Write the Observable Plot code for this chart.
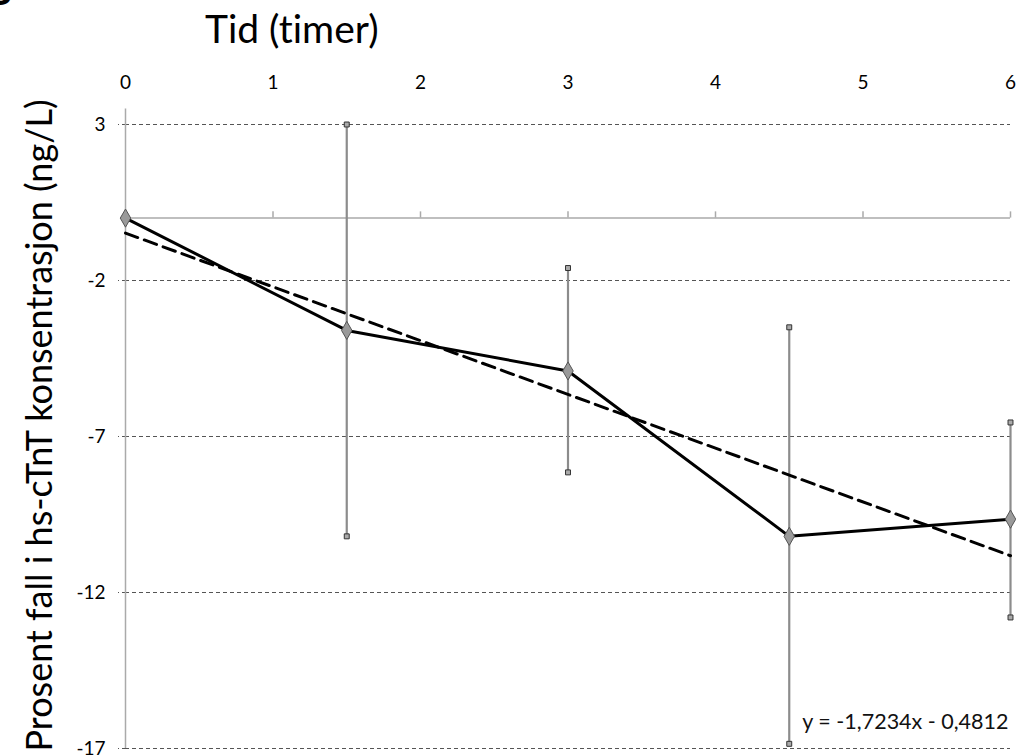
<!DOCTYPE html>
<html>
<head>
<meta charset="utf-8">
<script src="https://cdn.jsdelivr.net/npm/d3@7"></script>
<script src="https://cdn.jsdelivr.net/npm/@observablehq/plot@0.6"></script>
<style>
  body { margin: 0; background: #fff; }
  #wrap { position: relative; width: 1016px; height: 756px; overflow: hidden; font-family: Lato, "Open Sans", sans-serif; font-variant-ligatures: none; }
  #panel { position: absolute; left: -14px; top: -30px; font-size: 40px; font-weight: bold; color: #000; line-height: 1; }
  #title { position: absolute; left: 205px; top: 5px; font-size: 39px; color: #000; line-height: 1.2; }
  svg text { font-variant-ligatures: none; }
</style>
</head>
<body>
<div id="wrap">
  <div id="chart"></div>
  <div id="panel">B</div>
  <div id="title">Tid (timer)</div>
</div>
<script>
// Data
const hours = [0, 1.5, 3, 4.5, 6];
const meanFall = [0, -3.6, -4.9, -10.2, -9.65];
const errHigh = [null, 3, -1.6, -3.5, -6.55];
const errLow = [null, -10.2, -8.15, -16.85, -12.8];
const xTicks = [0, 1, 2, 3, 4, 5, 6];
const yTicks = [3, -2, -7, -12, -17];
const trendSlope = -1.7234;
const trendIntercept = -0.4812;
const equationLabel = "y = -1,7234x - 0,4812";
const yLabel = "Prosent fall i hs-cTnT konsentrasjon (ng/L)";

const points = hours.map((h, i) => ({x: h, y: meanFall[i]}));
const bars = hours.map((h, i) => ({x: h, lo: errLow[i], hi: errHigh[i]})).filter(d => d.lo != null);
const caps = bars.flatMap(d => [{x: d.x, y: d.lo}, {x: d.x, y: d.hi}]);
const trendX = [hours[0], hours[hours.length - 1]];
const trend = trendX.map(x => ({x, y: trendSlope * x + trendIntercept}));

const chart = Plot.plot({
  width: 1016,
  height: 756,
  marginLeft: 125,
  marginRight: 6,
  marginTop: 124,
  marginBottom: 8,
  style: {fontFamily: "Lato, 'Open Sans', sans-serif", background: "#fff", fontSize: "19px", color: "#000"},
  x: {domain: [0, 6]},
  y: {domain: [-17, 3]},
  marks: [
    Plot.gridY(yTicks, {stroke: "#555", strokeOpacity: 1, strokeDasharray: "4,3", strokeWidth: 1}),
    Plot.axisY(yTicks, {tickSize: 7, tickPadding: 13, fontSize: 19, stroke: "#555", strokeDasharray: "3,3", label: null, tickFormat: d => String(d).replace("−", "-")}),
    Plot.axisX(xTicks, {anchor: "top", tickSize: 0, tickPadding: 36, fontSize: 19, label: null, tickFormat: d => String(d)}),
    Plot.ruleY([0], {x1: 0, x2: 6, stroke: "#aaa", strokeWidth: 1.5}),
    Plot.ruleX([0], {y1: -17, y2: 3.5, stroke: "#aaa", strokeWidth: 1.5}),
    Plot.ruleX(xTicks.slice(1), {y1: 0, y2: 0.2, stroke: "#aaa", strokeWidth: 1.5}),
    Plot.ruleX(bars, {x: "x", y1: "lo", y2: "hi", stroke: "#8c8c8c", strokeWidth: 2.2}),
    Plot.line(trend, {x: "x", y: "y", stroke: "#000", strokeWidth: 3, strokeDasharray: "13,7"}),
    Plot.line(points, {x: "x", y: "y", stroke: "#000", strokeWidth: 3}),
    Plot.dot(points, {x: "x", y: "y", symbol: "diamond", r: 5.5, fill: "#9a9a9a", stroke: "#555", strokeWidth: 1}),
    Plot.dot(caps, {x: "x", y: "y", symbol: "square", r: 2.8, fill: "#aaa", stroke: "#333", strokeWidth: 1}),
    Plot.text([equationLabel], {frameAnchor: "bottom-right", dx: -2, dy: -20, fontSize: 21.5, fill: "#111", textAnchor: "end", lineAnchor: "bottom"}),
    Plot.text([yLabel], {frameAnchor: "left", rotate: -90, dx: -85, dy: -11, fontSize: 36, fill: "#000", textAnchor: "middle", lineAnchor: "middle"})
  ]
});
document.getElementById("chart").appendChild(chart);
</script>
</body>
</html>
